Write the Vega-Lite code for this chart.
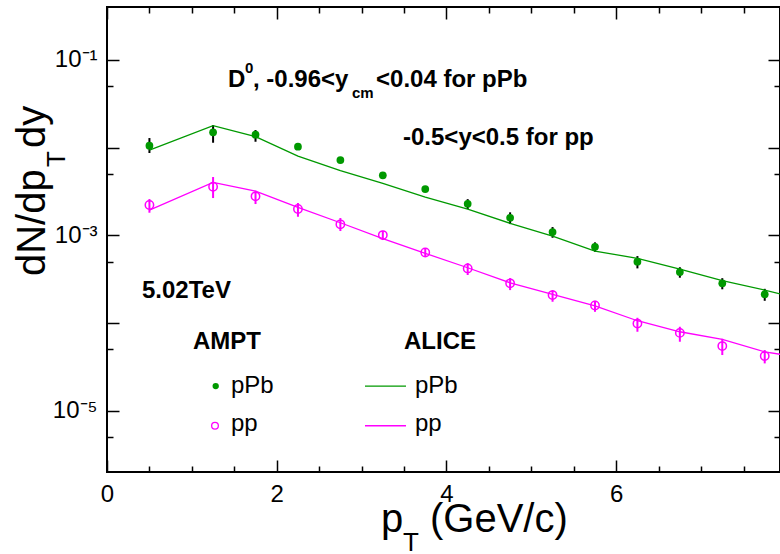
{
  "$schema": "https://vega.github.io/schema/vega-lite/v6.json",
  "width": 673,
  "height": 465,
  "autosize": {"type": "none"},
  "padding": {"left": 107, "top": 7, "right": 0, "bottom": 82},
  "background": "white",
  "config": {
    "font": "Liberation Sans",
    "view": {"stroke": "black", "strokeWidth": 2},
    "axis": {
      "domain": false,
      "grid": false,
      "title": null,
      "labelFont": "Liberation Sans",
      "labelFontSize": 24,
      "labelColor": "black",
      "tickColor": "black",
      "tickWidth": 1.5,
      "labelFlush": false,
      "labelOverlap": false,
      "labelBound": false
    },
    "text": {"font": "Liberation Sans", "color": "black", "align": "left", "baseline": "alphabetic"}
  },
  "datasets": {
    "ampt": [
      {"pt": 0.5, "sys": "pPb", "y": 0.01048, "lo": 0.00866, "hi": 0.01283},
      {"pt": 1.25, "sys": "pPb", "y": 0.01491, "lo": 0.01134, "hi": 0.01806},
      {"pt": 1.75, "sys": "pPb", "y": 0.0140, "lo": 0.01164, "hi": 0.01583},
      {"pt": 2.25, "sys": "pPb", "y": 0.01021, "lo": 0.0097, "hi": 0.0107},
      {"pt": 2.75, "sys": "pPb", "y": 0.0072, "lo": 0.00684, "hi": 0.00756},
      {"pt": 3.25, "sys": "pPb", "y": 0.00482, "lo": 0.00458, "hi": 0.00506},
      {"pt": 3.75, "sys": "pPb", "y": 0.003363, "lo": 0.00316, "hi": 0.00357},
      {"pt": 4.25, "sys": "pPb", "y": 0.002286, "lo": 0.00199, "hi": 0.00258},
      {"pt": 4.75, "sys": "pPb", "y": 0.001583, "lo": 0.001341, "hi": 0.001825},
      {"pt": 5.25, "sys": "pPb", "y": 0.001088, "lo": 0.000936, "hi": 0.00124},
      {"pt": 5.75, "sys": "pPb", "y": 0.000739, "lo": 0.000648, "hi": 0.00083},
      {"pt": 6.25, "sys": "pPb", "y": 0.000499, "lo": 0.000419, "hi": 0.000579},
      {"pt": 6.75, "sys": "pPb", "y": 0.00038, "lo": 0.000328, "hi": 0.000432},
      {"pt": 7.25, "sys": "pPb", "y": 0.000283, "lo": 0.000242, "hi": 0.000324},
      {"pt": 7.75, "sys": "pPb", "y": 0.000212, "lo": 0.000179, "hi": 0.000245},
      {"pt": 0.5, "sys": "pp", "y": 0.00221, "lo": 0.001806, "hi": 0.002587},
      {"pt": 1.25, "sys": "pp", "y": 0.003573, "lo": 0.002656, "hi": 0.00461},
      {"pt": 1.75, "sys": "pp", "y": 0.002777, "lo": 0.002269, "hi": 0.003216},
      {"pt": 2.25, "sys": "pp", "y": 0.00199, "lo": 0.001625, "hi": 0.00233},
      {"pt": 2.75, "sys": "pp", "y": 0.001331, "lo": 0.001117, "hi": 0.001571},
      {"pt": 3.25, "sys": "pp", "y": 0.001005, "lo": 0.000882, "hi": 0.001125},
      {"pt": 3.75, "sys": "pp", "y": 0.000635, "lo": 0.000569, "hi": 0.000715},
      {"pt": 4.25, "sys": "pp", "y": 0.000419, "lo": 0.000352, "hi": 0.000482},
      {"pt": 4.75, "sys": "pp", "y": 0.000283, "lo": 0.000237, "hi": 0.000325},
      {"pt": 5.25, "sys": "pp", "y": 0.000208, "lo": 0.0001745, "hi": 0.000237},
      {"pt": 5.75, "sys": "pp", "y": 0.000158, "lo": 0.000134, "hi": 0.000179},
      {"pt": 6.25, "sys": "pp", "y": 0.0000984, "lo": 0.0000794, "hi": 0.0001146},
      {"pt": 6.75, "sys": "pp", "y": 0.0000771, "lo": 0.0000611, "hi": 0.0000905},
      {"pt": 7.25, "sys": "pp", "y": 0.0000545, "lo": 0.0000431, "hi": 0.000066},
      {"pt": 7.75, "sys": "pp", "y": 0.0000419, "lo": 0.0000346, "hi": 0.0000491}
    ],
    "alice": [
      {"pt": 0.5, "sys": "pPb", "y": 0.009366},
      {"pt": 1.25, "sys": "pPb", "y": 0.01773},
      {"pt": 1.75, "sys": "pPb", "y": 0.01328},
      {"pt": 2.25, "sys": "pPb", "y": 0.0080},
      {"pt": 2.75, "sys": "pPb", "y": 0.005439},
      {"pt": 3.25, "sys": "pPb", "y": 0.003906},
      {"pt": 3.75, "sys": "pPb", "y": 0.002725},
      {"pt": 4.25, "sys": "pPb", "y": 0.00199},
      {"pt": 4.75, "sys": "pPb", "y": 0.001367},
      {"pt": 5.25, "sys": "pPb", "y": 0.000979},
      {"pt": 5.75, "sys": "pPb", "y": 0.000661},
      {"pt": 6.25, "sys": "pPb", "y": 0.000545},
      {"pt": 6.75, "sys": "pPb", "y": 0.000412},
      {"pt": 7.25, "sys": "pPb", "y": 0.000303},
      {"pt": 7.75, "sys": "pPb", "y": 0.000237},
      {"pt": 8.5, "sys": "pPb", "y": 0.000156},
      {"pt": 0.5, "sys": "pp", "y": 0.001938},
      {"pt": 1.25, "sys": "pp", "y": 0.004011},
      {"pt": 1.75, "sys": "pp", "y": 0.003192},
      {"pt": 2.25, "sys": "pp", "y": 0.00208},
      {"pt": 2.75, "sys": "pp", "y": 0.001388},
      {"pt": 3.25, "sys": "pp", "y": 0.000917},
      {"pt": 3.75, "sys": "pp", "y": 0.000622},
      {"pt": 4.25, "sys": "pp", "y": 0.000426},
      {"pt": 4.75, "sys": "pp", "y": 0.000287},
      {"pt": 5.25, "sys": "pp", "y": 0.000212},
      {"pt": 5.75, "sys": "pp", "y": 0.000157},
      {"pt": 6.25, "sys": "pp", "y": 0.000106},
      {"pt": 6.75, "sys": "pp", "y": 0.0000794},
      {"pt": 7.25, "sys": "pp", "y": 0.000065},
      {"pt": 7.75, "sys": "pp", "y": 0.0000469},
      {"pt": 8.5, "sys": "pp", "y": 0.0000358}
    ]
  },
  "resolve": {"axis": {"x": "independent", "y": "independent"}},
  "layer": [
    {
      "data": {"name": "ampt"},
      "transform": [{"filter": "datum.sys === 'pPb'"}],
      "mark": {"type": "rule", "color": "black", "strokeWidth": 2},
      "encoding": {
        "x": {"field": "pt", "type": "quantitative", "scale": {"domain": [0, 7.93], "nice": false, "zero": false}, "axis": null},
        "y": {"field": "lo", "type": "quantitative", "scale": {"type": "log", "domain": [0.000002, 0.4], "nice": false}, "axis": null},
        "y2": {"field": "hi"}
      }
    },
    {
      "data": {"name": "ampt"},
      "transform": [{"filter": "datum.sys === 'pp'"}],
      "mark": {"type": "rule", "color": "#ff00ff", "strokeWidth": 2},
      "encoding": {
        "x": {"field": "pt", "type": "quantitative", "scale": {"domain": [0, 7.93], "nice": false, "zero": false}, "axis": null},
        "y": {"field": "lo", "type": "quantitative", "scale": {"type": "log", "domain": [0.000002, 0.4], "nice": false}, "axis": null},
        "y2": {"field": "hi"}
      }
    },
    {
      "data": {"name": "alice"},
      "mark": {"type": "line", "strokeWidth": 1.3, "clip": true},
      "encoding": {
        "x": {"field": "pt", "type": "quantitative", "scale": {"domain": [0, 7.93], "nice": false, "zero": false}, "axis": null},
        "y": {"field": "y", "type": "quantitative", "scale": {"type": "log", "domain": [0.000002, 0.4], "nice": false}, "axis": null},
        "color": {"field": "sys", "type": "nominal", "scale": {"domain": ["pPb", "pp"], "range": ["#009900", "#ff00ff"]}, "legend": null}
      }
    },
    {
      "data": {"name": "ampt"},
      "transform": [{"filter": "datum.sys === 'pPb'"}],
      "mark": {"type": "point", "shape": "circle", "filled": true, "color": "#009900", "opacity": 1, "size": 60},
      "encoding": {
        "x": {
          "field": "pt", "type": "quantitative",
          "scale": {"domain": [0, 7.93], "nice": false, "zero": false},
          "axis": {
            "orient": "bottom",
            "values": [0, 0.5, 1, 1.5, 2, 2.5, 3, 3.5, 4, 4.5, 5, 5.5, 6, 6.5, 7, 7.5],
            "labelExpr": "datum.value % 2 === 0 ? format(datum.value, 'd') : ''",
            "tickSize": {"condition": {"test": "datum.value % 2 === 0", "value": -12}, "value": -6},
            "labelPadding": 22
          }
        },
        "y": {
          "field": "y", "type": "quantitative",
          "scale": {"type": "log", "domain": [0.000002, 0.4], "nice": false},
          "axis": {
            "orient": "left",
            "values": [0.000005, 0.00001, 0.00005, 0.0001, 0.0005, 0.001, 0.005, 0.01, 0.05, 0.1],
            "labelExpr": "datum.value === 0.1 ? '10⁻¹' : datum.value === 0.001 ? '10⁻³' : datum.value === 0.00001 ? '10⁻⁵' : ''",
            "tickSize": {"condition": {"test": "abs(log(datum.value) / LN10 - round(log(datum.value) / LN10)) < 0.01", "value": -12}, "value": -6},
            "labelPadding": 22
          }
        }
      }
    },
    {
      "data": {"name": "ampt"},
      "transform": [{"filter": "datum.sys === 'pp'"}],
      "mark": {"type": "point", "shape": "circle", "filled": false, "color": "#ff00ff", "opacity": 1, "size": 70, "strokeWidth": 1.5},
      "encoding": {
        "x": {
          "field": "pt", "type": "quantitative",
          "scale": {"domain": [0, 7.93], "nice": false, "zero": false},
          "axis": {
            "orient": "top",
            "labels": false,
            "values": [0, 0.5, 1, 1.5, 2, 2.5, 3, 3.5, 4, 4.5, 5, 5.5, 6, 6.5, 7, 7.5],
            "tickSize": {"condition": {"test": "datum.value % 2 === 0", "value": -12}, "value": -6}
          }
        },
        "y": {
          "field": "y", "type": "quantitative",
          "scale": {"type": "log", "domain": [0.000002, 0.4], "nice": false},
          "axis": {
            "orient": "right",
            "labels": false,
            "values": [0.000005, 0.00001, 0.00005, 0.0001, 0.0005, 0.001, 0.005, 0.01, 0.05, 0.1],
            "tickSize": {"condition": {"test": "abs(log(datum.value) / LN10 - round(log(datum.value) / LN10)) < 0.01", "value": -12}, "value": -6}
          }
        }
      }
    },
    {
      "data": {"values": [{"label": "dN/dp"}]},
      "mark": {"type": "text", "fontSize": 40, "angle": 270},
      "encoding": {
        "text": {"field": "label"},
        "x": {"datum": -0.7364, "type": "quantitative", "scale": {"domain": [0, 7.93], "nice": false, "zero": false}, "axis": null},
        "y": {"datum": 0.0003425, "type": "quantitative", "scale": {"type": "log", "domain": [0.000002, 0.4], "nice": false}, "axis": null}
      }
    },
    {
      "data": {"values": [{"label": "T"}]},
      "mark": {"type": "text", "fontSize": 26, "angle": 270},
      "encoding": {
        "text": {"field": "label"},
        "x": {"datum": -0.4949, "type": "quantitative", "scale": {"domain": [0, 7.93], "nice": false, "zero": false}, "axis": null},
        "y": {"datum": 0.005992, "type": "quantitative", "scale": {"type": "log", "domain": [0.000002, 0.4], "nice": false}, "axis": null}
      }
    },
    {
      "data": {"values": [{"label": "dy"}]},
      "mark": {"type": "text", "fontSize": 40, "angle": 270},
      "encoding": {
        "text": {"field": "label"},
        "x": {"datum": -0.7364, "type": "quantitative", "scale": {"domain": [0, 7.93], "nice": false, "zero": false}, "axis": null},
        "y": {"datum": 0.00987, "type": "quantitative", "scale": {"type": "log", "domain": [0.000002, 0.4], "nice": false}, "axis": null}
      }
    },
    {
      "data": {"values": [{"label": "p"}]},
      "mark": {"type": "text", "fontSize": 40},
      "encoding": {
        "text": {"field": "label"},
        "x": {"datum": 3.228, "type": "quantitative", "scale": {"domain": [0, 7.93], "nice": false, "zero": false}, "axis": null},
        "y": {"datum": 0.000000413, "type": "quantitative", "scale": {"type": "log", "domain": [0.000002, 0.4], "nice": false}, "axis": null}
      }
    },
    {
      "data": {"values": [{"label": "T"}]},
      "mark": {"type": "text", "fontSize": 26},
      "encoding": {
        "text": {"field": "label"},
        "x": {"datum": 3.488, "type": "quantitative", "scale": {"domain": [0, 7.93], "nice": false, "zero": false}, "axis": null},
        "y": {"datum": 0.0000002507, "type": "quantitative", "scale": {"type": "log", "domain": [0.000002, 0.4], "nice": false}, "axis": null}
      }
    },
    {
      "data": {"values": [{"label": "(GeV/c)"}]},
      "mark": {"type": "text", "fontSize": 40},
      "encoding": {
        "text": {"field": "label"},
        "x": {"datum": 3.806, "type": "quantitative", "scale": {"domain": [0, 7.93], "nice": false, "zero": false}, "axis": null},
        "y": {"datum": 0.000000413, "type": "quantitative", "scale": {"type": "log", "domain": [0.000002, 0.4], "nice": false}, "axis": null}
      }
    },
    {
      "data": {"values": [{"label": "D"}]},
      "mark": {"type": "text", "fontSize": 24, "fontWeight": "bold"},
      "encoding": {
        "text": {"field": "label"},
        "x": {"datum": 1.4257, "type": "quantitative", "scale": {"domain": [0, 7.93], "nice": false, "zero": false}, "axis": null},
        "y": {"datum": 0.04935, "type": "quantitative", "scale": {"type": "log", "domain": [0.000002, 0.4], "nice": false}, "axis": null}
      }
    },
    {
      "data": {"values": [{"label": "0"}]},
      "mark": {"type": "text", "fontSize": 15, "fontWeight": "bold"},
      "encoding": {
        "text": {"field": "label"},
        "x": {"datum": 1.626, "type": "quantitative", "scale": {"domain": [0, 7.93], "nice": false, "zero": false}, "axis": null},
        "y": {"datum": 0.0707, "type": "quantitative", "scale": {"type": "log", "domain": [0.000002, 0.4], "nice": false}, "axis": null}
      }
    },
    {
      "data": {"values": [{"label": ", -0.96<y"}]},
      "mark": {"type": "text", "fontSize": 24, "fontWeight": "bold"},
      "encoding": {
        "text": {"field": "label"},
        "x": {"datum": 1.720, "type": "quantitative", "scale": {"domain": [0, 7.93], "nice": false, "zero": false}, "axis": null},
        "y": {"datum": 0.04935, "type": "quantitative", "scale": {"type": "log", "domain": [0.000002, 0.4], "nice": false}, "axis": null}
      }
    },
    {
      "data": {"values": [{"label": "cm"}]},
      "mark": {"type": "text", "fontSize": 15, "fontWeight": "bold"},
      "encoding": {
        "text": {"field": "label"},
        "x": {"datum": 2.887, "type": "quantitative", "scale": {"domain": [0, 7.93], "nice": false, "zero": false}, "axis": null},
        "y": {"datum": 0.03716, "type": "quantitative", "scale": {"type": "log", "domain": [0.000002, 0.4], "nice": false}, "axis": null}
      }
    },
    {
      "data": {"values": [{"label": "<0.04 for pPb"}]},
      "mark": {"type": "text", "fontSize": 24, "fontWeight": "bold"},
      "encoding": {
        "text": {"field": "label"},
        "x": {"datum": 3.170, "type": "quantitative", "scale": {"domain": [0, 7.93], "nice": false, "zero": false}, "axis": null},
        "y": {"datum": 0.04935, "type": "quantitative", "scale": {"type": "log", "domain": [0.000002, 0.4], "nice": false}, "axis": null}
      }
    },
    {
      "data": {"values": [{"label": "-0.5<y<0.5 for pp"}]},
      "mark": {"type": "text", "fontSize": 24, "fontWeight": "bold"},
      "encoding": {
        "text": {"field": "label"},
        "x": {"datum": 3.488, "type": "quantitative", "scale": {"domain": [0, 7.93], "nice": false, "zero": false}, "axis": null},
        "y": {"datum": 0.01068, "type": "quantitative", "scale": {"type": "log", "domain": [0.000002, 0.4], "nice": false}, "axis": null}
      }
    },
    {
      "data": {"values": [{"label": "5.02TeV"}]},
      "mark": {"type": "text", "fontSize": 24, "fontWeight": "bold"},
      "encoding": {
        "text": {"field": "label"},
        "x": {"datum": 0.4124, "type": "quantitative", "scale": {"domain": [0, 7.93], "nice": false, "zero": false}, "axis": null},
        "y": {"datum": 0.0001949, "type": "quantitative", "scale": {"type": "log", "domain": [0.000002, 0.4], "nice": false}, "axis": null}
      }
    },
    {
      "data": {"values": [{"label": "AMPT"}]},
      "mark": {"type": "text", "fontSize": 24, "fontWeight": "bold"},
      "encoding": {
        "text": {"field": "label"},
        "x": {"datum": 1.0133, "type": "quantitative", "scale": {"domain": [0, 7.93], "nice": false, "zero": false}, "axis": null},
        "y": {"datum": 0.0000504, "type": "quantitative", "scale": {"type": "log", "domain": [0.000002, 0.4], "nice": false}, "axis": null}
      }
    },
    {
      "data": {"values": [{"label": "ALICE"}]},
      "mark": {"type": "text", "fontSize": 24, "fontWeight": "bold"},
      "encoding": {
        "text": {"field": "label"},
        "x": {"datum": 3.4995, "type": "quantitative", "scale": {"domain": [0, 7.93], "nice": false, "zero": false}, "axis": null},
        "y": {"datum": 0.0000504, "type": "quantitative", "scale": {"type": "log", "domain": [0.000002, 0.4], "nice": false}, "axis": null}
      }
    },
    {
      "data": {"values": [{"sys": "pPb"}]},
      "mark": {"type": "point", "shape": "circle", "filled": true, "color": "#009900", "opacity": 1, "size": 40},
      "encoding": {
        "x": {"datum": 1.2808, "type": "quantitative", "scale": {"domain": [0, 7.93], "nice": false, "zero": false}, "axis": null},
        "y": {"datum": 0.00001907, "type": "quantitative", "scale": {"type": "log", "domain": [0.000002, 0.4], "nice": false}, "axis": null}
      }
    },
    {
      "data": {"values": [{"sys": "pp"}]},
      "mark": {"type": "point", "shape": "circle", "filled": false, "color": "#ff00ff", "opacity": 1, "size": 45, "strokeWidth": 1.3},
      "encoding": {
        "x": {"datum": 1.2725, "type": "quantitative", "scale": {"domain": [0, 7.93], "nice": false, "zero": false}, "axis": null},
        "y": {"datum": 0.00000673, "type": "quantitative", "scale": {"type": "log", "domain": [0.000002, 0.4], "nice": false}, "axis": null}
      }
    },
    {
      "data": {"values": [{"sys": "pPb"}]},
      "mark": {"type": "rule", "color": "#009900", "strokeWidth": 1.3},
      "encoding": {
        "x": {"datum": 3.040, "type": "quantitative", "scale": {"domain": [0, 7.93], "nice": false, "zero": false}, "axis": null},
        "x2": {"datum": 3.523},
        "y": {"datum": 0.00001907, "type": "quantitative", "scale": {"type": "log", "domain": [0.000002, 0.4], "nice": false}, "axis": null}
      }
    },
    {
      "data": {"values": [{"sys": "pp"}]},
      "mark": {"type": "rule", "color": "#ff00ff", "strokeWidth": 1.3},
      "encoding": {
        "x": {"datum": 3.040, "type": "quantitative", "scale": {"domain": [0, 7.93], "nice": false, "zero": false}, "axis": null},
        "x2": {"datum": 3.523},
        "y": {"datum": 0.00000673, "type": "quantitative", "scale": {"type": "log", "domain": [0.000002, 0.4], "nice": false}, "axis": null}
      }
    },
    {
      "data": {"values": [{"label": "pPb"}]},
      "mark": {"type": "text", "fontSize": 24},
      "encoding": {
        "text": {"field": "label"},
        "x": {"datum": 1.4611, "type": "quantitative", "scale": {"domain": [0, 7.93], "nice": false, "zero": false}, "axis": null},
        "y": {"datum": 0.00001587, "type": "quantitative", "scale": {"type": "log", "domain": [0.000002, 0.4], "nice": false}, "axis": null}
      }
    },
    {
      "data": {"values": [{"label": "pp"}]},
      "mark": {"type": "text", "fontSize": 24},
      "encoding": {
        "text": {"field": "label"},
        "x": {"datum": 1.4611, "type": "quantitative", "scale": {"domain": [0, 7.93], "nice": false, "zero": false}, "axis": null},
        "y": {"datum": 0.000005854, "type": "quantitative", "scale": {"type": "log", "domain": [0.000002, 0.4], "nice": false}, "axis": null}
      }
    },
    {
      "data": {"values": [{"label": "pPb"}]},
      "mark": {"type": "text", "fontSize": 24},
      "encoding": {
        "text": {"field": "label"},
        "x": {"datum": 3.629, "type": "quantitative", "scale": {"domain": [0, 7.93], "nice": false, "zero": false}, "axis": null},
        "y": {"datum": 0.00001587, "type": "quantitative", "scale": {"type": "log", "domain": [0.000002, 0.4], "nice": false}, "axis": null}
      }
    },
    {
      "data": {"values": [{"label": "pp"}]},
      "mark": {"type": "text", "fontSize": 24},
      "encoding": {
        "text": {"field": "label"},
        "x": {"datum": 3.629, "type": "quantitative", "scale": {"domain": [0, 7.93], "nice": false, "zero": false}, "axis": null},
        "y": {"datum": 0.000005854, "type": "quantitative", "scale": {"type": "log", "domain": [0.000002, 0.4], "nice": false}, "axis": null}
      }
    }
  ]
}
